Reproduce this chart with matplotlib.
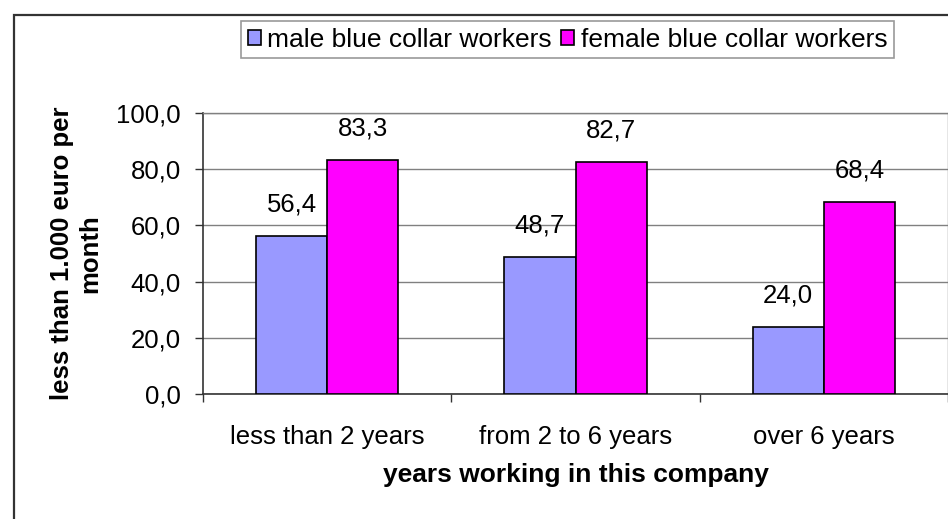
import matplotlib.pyplot as plt
from matplotlib.patches import Rectangle
import numpy as np

plt.rcParams['font.family'] = ['Liberation Sans', 'DejaVu Sans']

categories = ['less than 2 years', 'from 2 to 6 years', 'over 6 years']
male = [56.4, 48.7, 24.0]
female = [83.3, 82.7, 68.4]
series_names = ['male blue collar workers', 'female blue collar workers']


def fmt(v):
    # comma as decimal separator
    return '{:.1f}'.format(v).replace('.', ',')


fig = plt.figure(figsize=(9.48, 5.19), dpi=100)

# outer chart frame (runs off the right and bottom edges)
fig.patches.append(Rectangle((14 / 948, -0.05), 1.0, 1 - 14.5 / 519 + 0.05,
                             transform=fig.transFigure, fill=False,
                             edgecolor='#333333', linewidth=1.6))

ax = fig.add_axes([203 / 948, 125 / 519, 745 / 948, 281 / 519])

x = np.arange(len(categories))
w = 0.287
b1 = ax.bar(x - w / 2, male, w, color='#9999FF', edgecolor='black',
            linewidth=1.2, label=series_names[0], zorder=3)
b2 = ax.bar(x + w / 2, female, w, color='#FF00FF', edgecolor='black',
            linewidth=1.2, label=series_names[1], zorder=3)

for bars, vals in ((b1, male), (b2, female)):
    for r, v in zip(bars, vals):
        ax.annotate(fmt(v), (r.get_x() + r.get_width() / 2, r.get_height()),
                    xytext=(0, 14), textcoords='offset points',
                    ha='center', va='bottom', fontsize=18.5)

ax.set_xlim(-0.5, 2.5)
ax.set_ylim(0, 100)
ax.set_yticks(np.arange(0, 101, 20))
ax.set_yticklabels([fmt(v) for v in np.arange(0, 101, 20)], fontsize=18.5)
ax.yaxis.grid(True, color='#808080', linewidth=1.0, zorder=0)
ax.set_axisbelow(True)

ax.set_xticks([-0.5, 0.5, 1.5, 2.5])
ax.set_xticklabels([])
ax.set_xticks(x, minor=True)
ax.set_xticklabels(categories, minor=True, fontsize=18.5)
ax.tick_params(axis='x', which='minor', length=0, pad=22)
ax.tick_params(axis='x', which='major', length=6, width=1, color='#333333')
ax.tick_params(axis='y', length=6, width=1, color='#333333', pad=10)

for s in ('top', 'right'):
    ax.spines[s].set_color('#808080')
    ax.spines[s].set_linewidth(1.0)
for s in ('left', 'bottom'):
    ax.spines[s].set_color('#333333')
    ax.spines[s].set_linewidth(1.2)

ax.set_ylabel('less than 1.000 euro per\nmonth', fontsize=18.5,
              fontweight='bold', linespacing=1.25, va='center')
ax.yaxis.set_label_coords(-0.1705, 0.5)
ax.set_xlabel('years working in this company', fontsize=19,
              fontweight='bold', va='top')
ax.xaxis.set_label_coords(0.5, -0.245)

leg = fig.legend(loc='upper left', bbox_to_anchor=(241 / 948, 1 - 21 / 519),
                 ncol=2, fontsize=19, frameon=True, fancybox=False,
                 borderpad=0.25, columnspacing=0.35, handlelength=0.5,
                 handleheight=0.5, handletextpad=0.25, borderaxespad=0)
leg.get_frame().set_edgecolor('#808080')
leg.get_frame().set_linewidth(1.2)

fig.savefig('out.png', dpi=100)
